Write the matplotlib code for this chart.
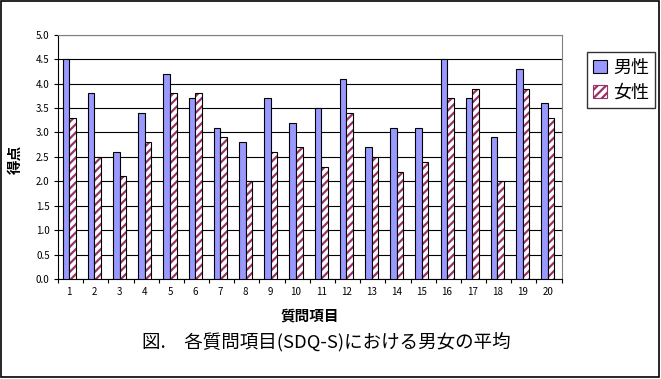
import matplotlib.pyplot as plt
import numpy as np
from matplotlib.patches import Rectangle

plt.rcParams['font.family'] = ['Noto Sans CJK JP', 'DejaVu Sans']
plt.rcParams['hatch.linewidth'] = 1.6

items = [str(i) for i in range(1, 21)]
male = [4.5, 3.8, 2.6, 3.4, 4.2, 3.7, 3.1, 2.8, 3.7, 3.2,
        3.5, 4.1, 2.7, 3.1, 3.1, 4.5, 3.7, 2.9, 4.3, 3.6]
female = [3.3, 2.5, 2.1, 2.8, 3.8, 3.8, 2.9, 2.0, 2.6, 2.7,
          2.3, 3.4, 2.5, 2.2, 2.4, 3.7, 3.9, 2.0, 3.9, 3.3]
yticks = [0.0, 0.5, 1.0, 1.5, 2.0, 2.5, 3.0, 3.5, 4.0, 4.5, 5.0]

fig = plt.figure(figsize=(6.61, 3.79), dpi=100)
ax = fig.add_axes([0.0877, 0.264, 0.762, 0.644])

x = np.arange(1, len(items) + 1)
w = 0.26
ax.bar(x - w / 2, male, w, color='#9999FF', edgecolor='black', linewidth=0.8,
       label='男性', zorder=3)
ax.bar(x + w / 2, female, w, color='white', edgecolor='#993366', hatch='////',
       linewidth=0, zorder=3)
ax.bar(x + w / 2, female, w, fill=False, edgecolor='black', linewidth=0.8,
       zorder=4)

# legend proxies
h1 = Rectangle((0, 0), 1, 1, facecolor='#9999FF', edgecolor='black', linewidth=0.8)
h2 = Rectangle((0, 0), 1, 1, facecolor='white', edgecolor='#993366', hatch='////',
               linewidth=0.8)
leg = fig.legend([h1, h2], ['男性', '女性'], loc='upper left',
                 bbox_to_anchor=(0.888, 0.862), fontsize=13, frameon=True,
                 fancybox=False, edgecolor='black', handlelength=0.75,
                 handleheight=0.75, handletextpad=0.35, borderpad=0.35,
                 labelspacing=0.4, borderaxespad=0)
leg.get_frame().set_linewidth(1.0)

ax.set_xlim(0.55, 20.55)
ax.set_ylim(0, 5.0)
ax.set_yticks(yticks)
ax.set_yticklabels([f'{v:.1f}' for v in yticks], fontsize=7)
ax.set_xticks(x)
ax.set_xticklabels(items, fontsize=7)
ax.tick_params(axis='x', length=0, pad=6)
ax.set_xticks(np.arange(0.55, 20.6, 1), minor=True)
ax.tick_params(axis='x', which='minor', length=3, width=0.8, direction='out')
ax.tick_params(axis='y', length=3, width=0.8, direction='out', pad=3)

ax.grid(axis='y', color='black', linewidth=0.8, zorder=0)
ax.set_axisbelow(True)
for s in ['top', 'right']:
    ax.spines[s].set_color('#808080')
ax.spines['left'].set_linewidth(0.8)
ax.spines['bottom'].set_linewidth(0.8)

ax.set_xlabel('質問項目', fontsize=10.5, fontweight='bold')
ax.xaxis.set_label_coords(0.5, -0.115)
ax.set_ylabel('得点', fontsize=10.5, fontweight='bold')
ax.yaxis.set_label_coords(-0.07, 0.49)

fig.text(0.493, 0.098, '図.　各質問項目(SDQ-S)における男女の平均', fontsize=13.3,
         ha='center', va='center')

fig.patches.append(Rectangle((0.001, 0.004), 0.996, 0.994, transform=fig.transFigure,
                             fill=False, edgecolor='black', linewidth=1.2))

fig.savefig('out.png', dpi=100)
